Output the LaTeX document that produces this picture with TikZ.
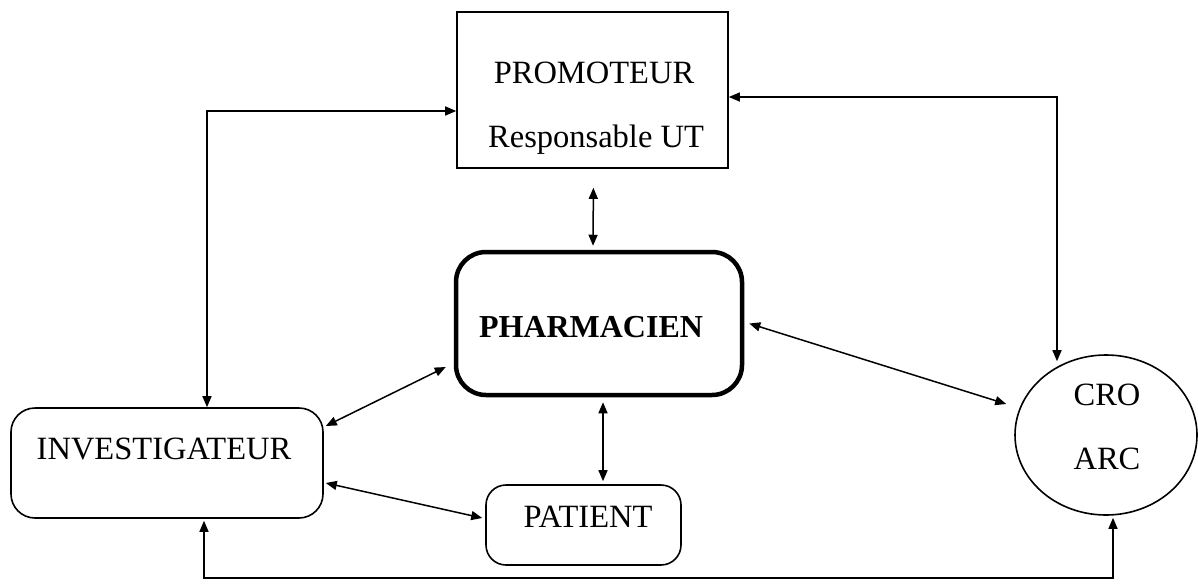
\documentclass[tikz,border=0pt]{standalone}
\usepackage{fontspec}
\setmainfont{Liberation Serif}
\usetikzlibrary{arrows.meta,shapes.geometric}
\begin{document}
\begin{tikzpicture}[x=1pt,y=-1pt,
  txt/.style={font=\fontsize{32.5}{38}\selectfont, inner sep=0pt, anchor=base},
  box/.style={draw, line width=1.6pt, inner sep=0pt},
  rbox/.style={box, rounded corners=24pt},
  link/.style={line width=1.5pt, {Triangle[length=11pt,width=9pt]}-{Triangle[length=11pt,width=9pt]}}]
\useasboundingbox (0,0) rectangle (1198,586);

% boxes
\node[box, minimum width=271pt, minimum height=156pt] (prom) at (592.5,90) {};
\node[txt] (promA) at (594,83) {PROMOTEUR};
\node[txt] (promB) at (596,147) {Responsable UT};

\node[rbox, line width=4.5pt, rounded corners=30pt, minimum width=286pt, minimum height=143pt] (pharm) at (599,323.5) {};
\node[txt, font=\fontsize{32}{38}\selectfont\bfseries] (pharmT) at (591,337) {PHARMACIEN};

\node[rbox, minimum width=312pt, minimum height=110pt] (inv) at (167,463) {};
\node[txt] (invT) at (164,459) {INVESTIGATEUR};

\node[rbox, rounded corners=20pt, minimum width=195pt, minimum height=80pt] (pat) at (583.5,525) {};
\node[txt] (patT) at (588,527) {PATIENT};

\node[draw, ellipse, line width=1.6pt, minimum width=182pt, minimum height=160pt, inner sep=0pt] (cro) at (1106,435) {};
\node[txt] (croA) at (1107,405) {CRO};
\node[txt] (croB) at (1107,469) {ARC};

% connectors
\coordinate (lc) at (207,111);
\draw[link] (prom.west |- lc) -- (lc) -- (inv.north -| lc);

\coordinate (rc) at (1057,97);
\draw[link] (prom.east |- rc) -- (rc) -- ([yshift=5pt]rc |- cro.125);

\draw[link, shorten <=19pt, shorten >=4pt] ([xshift=1pt]prom.south) -- ([xshift=-6pt]pharm.north);

\draw[link] ([xshift=2pt,yshift=37pt]inv.east) -- ([xshift=-8pt,yshift=-43.5pt]pharm.west);
\draw[link] ([xshift=5pt]pharm.east) -- ([xshift=-8pt,yshift=31pt]cro.west);
\draw[link, shorten <=5pt, shorten >=3pt] ([xshift=4pt]pharm.south) -- ([xshift=4pt]pharm.south |- pat.north);
\draw[link] ([xshift=2pt,yshift=-20pt]inv.east) -- ([xshift=-3pt,yshift=7pt]pat.west);

\coordinate (bl) at (204,578);
\coordinate (br) at (1113,578);
\draw[link] ([yshift=-2pt]inv.south -| bl) -- (bl) -- (br) -- ([yshift=-2pt]cro.south -| br);
\end{tikzpicture}
\end{document}
